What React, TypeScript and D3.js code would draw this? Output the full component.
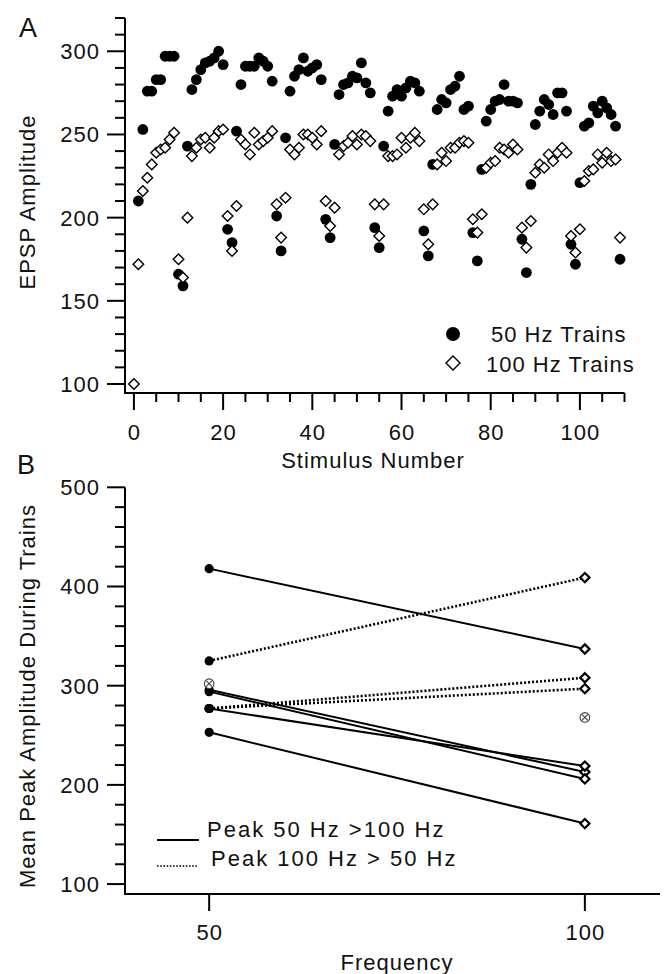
import React from 'react';
import * as d3 from 'd3';

// ---------- Panel A data (index = stimulus number) ----------
const amp50: (number | null)[] = [
  null, 210, 253, 276, 276, 283, 283, 297, 297, 297,
  166, 159, 243, 277, 283, 289, 293, 294, 296, 300, 292,
  193, 185, 252, 280, 291, 291, 291, 296, 294, 291, 282,
  201, 180, 248, 276, 285, 289, 296, 288, 290, 292, 283,
  199, 188, 244, 274, 280, 281, 285, 284, 293, 281, 275,
  194, 182, 243, 264, 273, 277, 273, 278, 282, 281, 276,
  192, 177, 232, 265, 271, 269, 277, 279, 285, 265, 267,
  191, 174, 229, 258, 265, 270, 271, 280, 270, 270, 269,
  187, 167, 220, 256, 264, 271, 268, 262, 275, 275, 264,
  184, 172, 221, 255, 257, 267, 263, 270, 266, 262, 255,
  175,
];
const amp100: (number | null)[] = [
  100, 172, 216, 224, 232, 239, 241, 242, 247, 251,
  175, 164, 200, 237, 242, 247, 248, 242, 248, 252, 253,
  201, 180, 207, 247, 244, 238, 251, 244, 246, 248, 252,
  208, 188, 212, 241, 238, 242, 250, 250, 248, 244, 252,
  210, 195, 206, 238, 243, 245, 249, 244, 250, 249, 246,
  208, 189, 208, 237, 237, 238, 248, 242, 248, 251, 246,
  205, 184, 208, 232, 239, 234, 242, 242, 245, 246, 245,
  199, 191, 202, 230, 233, 234, 242, 241, 239, 244, 241,
  194, 182, 198, 227, 232, 230, 238, 234, 239, 242, 239,
  189, 179, 193, 222, 228, 229, 238, 233, 239, 234, 235,
  188,
];
const xTicksA = [0, 20, 40, 60, 80, 100];
const yTicksA = [100, 150, 200, 250, 300];
const legendA = ['50 Hz Trains', '100 Hz Trains'];

// ---------- Panel B data ----------
const peak50 = [418, 325, 296, 294, 277, 277, 277, 253];
const peak100 = [337, 409, 213, 206, 219, 308, 297, 161];
const pairStyle = ['solid', 'dotted', 'solid', 'solid', 'solid', 'dotted', 'dotted', 'solid'];
const crossed50 = [302];
const crossed100 = [268];
const freqs = [50, 100];
const yTicksB = [100, 200, 300, 400, 500];
const legendB = ['Peak 50 Hz >100 Hz', 'Peak 100 Hz > 50 Hz'];

const FONT = '"Liberation Sans", Arial, Helvetica, sans-serif';

function diamond(cx: number, cy: number, s: number) {
  return `M${cx},${cy - s}L${cx + s},${cy}L${cx},${cy + s}L${cx - s},${cy}Z`;
}

export default function App() {
  const W = 667, H = 974;
  const xA = d3.scaleLinear().domain([-2, 110]).range([125, 624.5]);
  const yA = d3.scaleLinear().domain([94.6, 320]).range([393, 18]);
  const xB = d3.scaleLinear().domain([38.8, 110]).range([125, 660]);
  const yB = d3.scaleLinear().domain([90, 500]).range([894, 487.3]);

  const txt = { fontFamily: FONT, fontSize: 22, letterSpacing: 1, fill: '#111' } as const;

  const minorXA = d3.range(0, 111, 5);
  const minorYA = d3.range(100, 321, 10);
  const minorYB = d3.range(100, 501, 20);

  return (
    <svg width={W} height={H} style={{ position: 'absolute', left: 0, top: 0, background: '#fff' }}>
      <rect width={W} height={H} fill="#fff" />
      {/* ================= Panel A ================= */}
      <text x={19} y={37} style={{ ...txt, fontSize: 27, letterSpacing: 0 }}>A</text>
      <line x1={xA(-2)} x2={xA(-2)} y1={yA(320)} y2={yA(94.6) + 1} stroke="#000" strokeWidth={2} />
      <line x1={xA(-2) - 1} x2={xA(110)} y1={yA(94.6)} y2={yA(94.6)} stroke="#000" strokeWidth={2} />
      {minorYA.map((v) => {
        const major = v % 50 === 0;
        return <line key={'ya' + v} x1={xA(-2) - (major ? 18 : 10)} x2={xA(-2)} y1={yA(v)} y2={yA(v)} stroke="#000" strokeWidth={2} />;
      })}
      {minorXA.map((v) => {
        const major = v % 20 === 0;
        return <line key={'xa' + v} x1={xA(v)} x2={xA(v)} y1={yA(94.6)} y2={yA(94.6) + (major ? 17 : 9)} stroke="#000" strokeWidth={2} />;
      })}
      {yTicksA.map((v) => (
        <text key={'yla' + v} x={100} y={yA(v) + 8} textAnchor="end" style={txt}>{v}</text>
      ))}
      {xTicksA.map((v) => (
        <text key={'xla' + v} x={xA(v) + 0.5} y={440} textAnchor="middle" style={txt}>{v}</text>
      ))}
      <text x={373} y={468} textAnchor="middle" style={txt}>Stimulus Number</text>
      <text transform={`translate(35,202) rotate(-90)`} textAnchor="middle" style={txt}>EPSP Amplitude</text>

      {amp50.map((v, i) => v == null ? null : (
        <circle key={'c' + i} cx={xA(i)} cy={yA(v)} r={5.4} fill="#000" />
      ))}
      {amp100.map((v, i) => v == null ? null : (
        <path key={'d' + i} d={diamond(xA(i), yA(v), 5.3)} fill="#fff" stroke="#000" strokeWidth={1.4} />
      ))}

      <circle cx={453} cy={334} r={7} fill="#000" />
      <path d={diamond(453, 363, 7)} fill="#fff" stroke="#000" strokeWidth={1.4} />
      <text x={491} y={342} style={txt}>{legendA[0]}</text>
      <text x={486} y={372} style={txt}>{legendA[1]}</text>

      {/* ================= Panel B ================= */}
      <text x={17} y={474} style={{ ...txt, fontSize: 27, letterSpacing: 0 }}>B</text>
      <line x1={xB(38.8)} x2={xB(38.8)} y1={yB(500)} y2={yB(90) + 1} stroke="#000" strokeWidth={2} />
      <line x1={xB(38.8) - 1} x2={xB(110)} y1={yB(90)} y2={yB(90)} stroke="#000" strokeWidth={2} />
      {minorYB.map((v) => {
        const major = v % 100 === 0;
        return <line key={'yb' + v} x1={xB(38.8) - (major ? 18 : 10)} x2={xB(38.8)} y1={yB(v)} y2={yB(v)} stroke="#000" strokeWidth={2} />;
      })}
      {freqs.map((f) => (
        <line key={'xb' + f} x1={xB(f)} x2={xB(f)} y1={yB(90)} y2={yB(90) + 17} stroke="#000" strokeWidth={2} />
      ))}
      {yTicksB.map((v) => (
        <text key={'ylb' + v} x={100} y={yB(v) + 8} textAnchor="end" style={txt}>{v}</text>
      ))}
      {freqs.map((f) => (
        <text key={'xlb' + f} x={xB(f) + 0.5} y={940} textAnchor="middle" style={txt}>{f}</text>
      ))}
      <text x={397} y={970} textAnchor="middle" style={txt}>Frequency</text>
      <text transform={`translate(35,696) rotate(-90)`} textAnchor="middle" style={txt}>Mean Peak Amplitude During Trains</text>

      {peak50.map((a, i) => (
        <line key={'l' + i} x1={xB(freqs[0])} y1={yB(a)} x2={xB(freqs[1])} y2={yB(peak100[i])}
          stroke="#000" strokeWidth={pairStyle[i] === 'solid' ? 2 : 2.6}
          strokeDasharray={pairStyle[i] === 'solid' ? undefined : '2 2'} />
      ))}
      {peak50.map((a, i) => (
        <circle key={'p50' + i} cx={xB(freqs[0])} cy={yB(a)} r={4.6} fill="#000" />
      ))}
      {peak100.map((a, i) => (
        <path key={'p100' + i} d={diamond(xB(freqs[1]), yB(a), 4.6)} fill="#fff" stroke="#000" strokeWidth={2.2} />
      ))}
      {crossed50.map((a, i) => {
        const cx = xB(freqs[0]), cy = yB(a), r = 4.8, k = r * 0.62;
        return (
          <g key={'x50' + i} stroke="#444" strokeWidth={1.1} fill="none">
            <circle cx={cx} cy={cy} r={r} fill="#fff" />
            <line x1={cx - k} y1={cy - k} x2={cx + k} y2={cy + k} />
            <line x1={cx - k} y1={cy + k} x2={cx + k} y2={cy - k} />
          </g>
        );
      })}
      {crossed100.map((a, i) => {
        const cx = xB(freqs[1]), cy = yB(a), r = 4.8, k = r * 0.62;
        return (
          <g key={'x100' + i} stroke="#444" strokeWidth={1.1} fill="none">
            <circle cx={cx} cy={cy} r={r} fill="#fff" />
            <line x1={cx - k} y1={cy - k} x2={cx + k} y2={cy + k} />
            <line x1={cx - k} y1={cy + k} x2={cx + k} y2={cy - k} />
          </g>
        );
      })}

      <line x1={157} x2={199} y1={840} y2={840} stroke="#000" strokeWidth={2} />
      <line x1={157} x2={198} y1={866} y2={866} stroke="#000" strokeWidth={1.6} strokeDasharray="1.6 1.6" />
      <text x={207} y={837} style={{ ...txt, letterSpacing: 2 }}>{legendB[0]}</text>
      <text x={211} y={866} style={{ ...txt, letterSpacing: 2 }}>{legendB[1]}</text>
    </svg>
  );
}
